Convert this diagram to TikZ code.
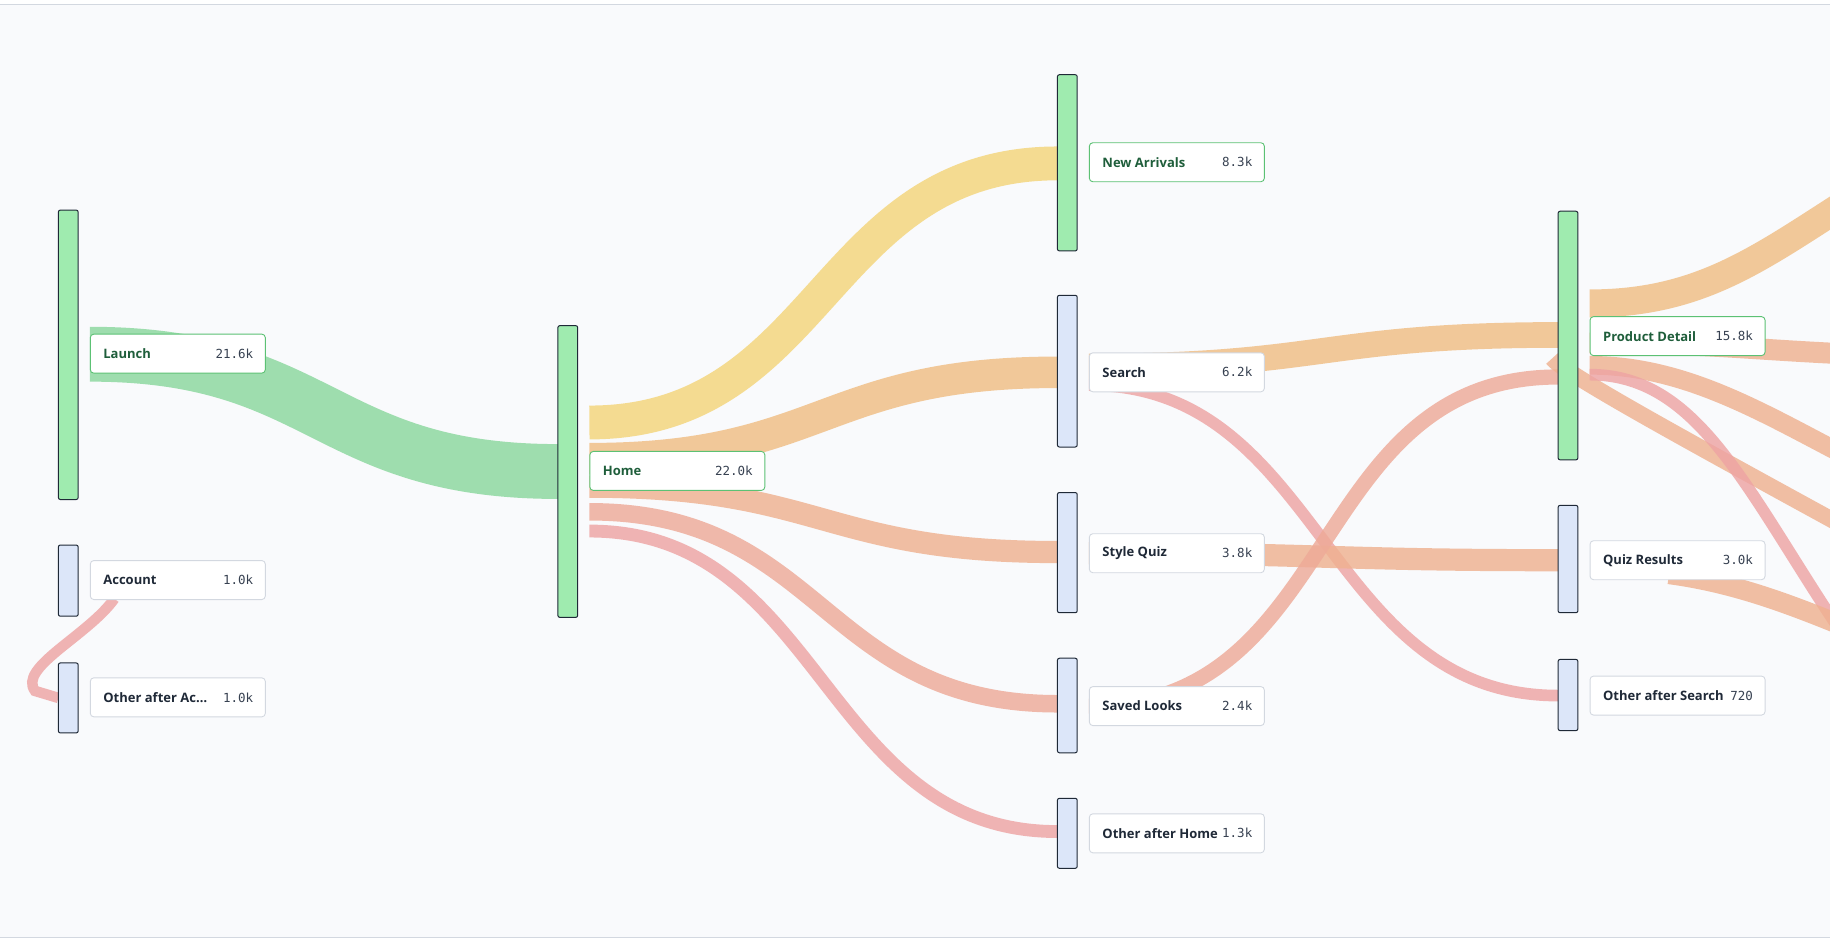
\documentclass[tikz,border=0pt]{standalone}
\usepackage{fontspec}
\setmainfont{Open Sans}
\newfontfamily\valfont{DejaVu Sans Mono}
\begin{document}
\definecolor{bg}{HTML}{F9FAFC}
\definecolor{gbar}{HTML}{9FEBAF}
\definecolor{bbar}{HTML}{DCE6F9}
\definecolor{bord}{HTML}{1F2937}
\definecolor{gbord}{HTML}{5CC174}
\definecolor{lbord}{HTML}{D3D8E0}
\definecolor{gtext}{HTML}{1F5E3B}
\definecolor{dtext}{HTML}{1F2937}
\definecolor{vtext}{HTML}{374151}
\definecolor{fgreen}{HTML}{8AD79D}
\definecolor{fyellow}{HTML}{F4D57A}
\definecolor{forange}{HTML}{F0BE84}
\definecolor{fsalm}{HTML}{EFB190}
\definecolor{fsalm2}{HTML}{EEAA98}
\definecolor{fred}{HTML}{EEA4A4}
\begin{tikzpicture}[x=1.1671pt,y=-1.1671pt,
  bar/.style={draw=bord,line width=1pt,rounded corners=2pt},
  gb/.style={bar,fill=gbar},
  bb/.style={bar,fill=bbar},
  lab/.style={draw=lbord,fill=white,rounded corners=3.5pt,line width=0.9pt,minimum width=175pt,minimum height=39pt,inner sep=0pt},
  glab/.style={lab,draw=gbord},
  fl/.style={draw opacity=0.82,line cap=butt},
  ltxt/.style={font=\bfseries\fontsize{13}{15}\selectfont,text=dtext,anchor=west},
  vtxt/.style={font=\valfont\fontsize{12.5}{15}\selectfont,text=vtext,anchor=east}]
\useasboundingbox (0,0) rectangle (1568,807);
\fill[white] (0,0) rectangle (1568,807);
\fill[bg] (0,4) rectangle (1568,803);
\draw[lbord,line width=1pt] (0,4) -- (1568,4) (0,803) -- (1568,803);
\begin{scope}
\clip (0,4) rectangle (1568,803);
% flows
\coordinate (l1) at (77,303.5); \coordinate (h1) at (478,404);
\draw[fl,fgreen,line width=47*1.1671pt] (l1) .. controls (277,303.5) and (277,404) .. (h1);
\coordinate (h2) at (505,362); \coordinate (n1) at (906,140);
\draw[fl,fyellow,line width=29*1.1671pt] (h2) .. controls (705,362) and (705,140) .. (n1);
\coordinate (h3) at (505,393); \coordinate (s1) at (906,319);
\draw[fl,forange,line width=27*1.1671pt] (h3) .. controls (705,393) and (705,319) .. (s1);
\coordinate (h4) at (505,417); \coordinate (q1) at (906,473);
\draw[fl,fsalm,line width=19*1.1671pt] (h4) .. controls (705,417) and (705,473) .. (q1);
\coordinate (h5) at (505,438.5); \coordinate (v1) at (906,603);
\draw[fl,fsalm2,line width=15*1.1671pt] (h5) .. controls (705,438.5) and (705,603) .. (v1);
\coordinate (h6) at (505,455); \coordinate (o1) at (906,712.5);
\draw[fl,fred,line width=11*1.1671pt] (h6) .. controls (705,455) and (705,712.5) .. (o1);
\coordinate (s2) at (933,314); \coordinate (p1) at (1335,287);
\draw[fl,forange,line width=22*1.1671pt] (s2) .. controls (1134,314) and (1134,287) .. (p1);
\coordinate (s3) at (933,330); \coordinate (x1) at (1335,596);
\draw[fl,fred,line width=10*1.1671pt] (s3) .. controls (1134,330) and (1134,596) .. (x1);
\coordinate (q2) at (933,474); \coordinate (r1) at (1335,480);
\draw[fl,fsalm,line width=19*1.1671pt] (q2) .. controls (1134,474) and (1134,480) .. (r1);
\coordinate (v2) at (933,605); \coordinate (p2) at (1335,323);
\draw[fl,fsalm2,line width=13*1.1671pt] (v2) .. controls (1150,605) and (1120,323) .. (p2);
\coordinate (a1) at (98,513); \coordinate (oa) at (50,598);
\draw[fl,fred,line width=9*1.1671pt] (a1) .. controls (75,545) and (15,572) .. (30,592) -- (oa);
% outgoing right
\coordinate (p3) at (1362,260); \coordinate (e1) at (1620,150);
\draw[fl,forange,line width=24*1.1671pt] (p3) .. controls (1470,260) and (1520,210) .. (e1);
\coordinate (p4) at (1362,294); \coordinate (e2) at (1600,304);
\draw[fl,fsalm,line width=18*1.1671pt] (p4) .. controls (1470,294) and (1500,300) .. (e2);
\coordinate (p5) at (1362,313); \coordinate (e3) at (1600,400);
\draw[fl,fsalm,line width=16*1.1671pt] (p5) .. controls (1450,313) and (1520,360) .. (e3);
\coordinate (p6) at (1330,307); \coordinate (e4) at (1600,462);
\draw[fl,fsalm,line width=14*1.1671pt] (p6) .. controls (1340,320) and (1450,380) .. (e4);
\coordinate (p7) at (1362,321); \coordinate (e5) at (1590,560);
\draw[fl,fred,line width=10*1.1671pt] (p7) .. controls (1460,321) and (1500,430) .. (e5);
\coordinate (r2) at (1430,492); \coordinate (e6) at (1600,545);
\draw[fl,fsalm,line width=17*1.1671pt] (r2) .. controls (1490,500) and (1540,520) .. (e6);
\end{scope}
% bars
\draw[gb] (50,180) rectangle (67,428);
\draw[bb] (50,467) rectangle (67,528);
\draw[bb] (50,568) rectangle (67,628);
\draw[gb] (478,279) rectangle (495,529);
\draw[gb] (906,64) rectangle (923,215);
\draw[bb] (906,253) rectangle (923,383);
\draw[bb] (906,422) rectangle (923,525);
\draw[bb] (906,564) rectangle (923,645);
\draw[bb] (906,684) rectangle (923,744);
\draw[gb] (1335,181) rectangle (1352,394);
\draw[bb] (1335,433) rectangle (1352,525);
\draw[bb] (1335,565) rectangle (1352,626);
% labels
\newcommand\mylab[6]{%
  \node[#6,anchor=west] (#1) at (#2,#3) {};
  \node[ltxt,#5] at ([xshift=10pt]#1.west) {#4};}
\newcommand\myval[2]{\node[vtxt] at ([xshift=-9pt]#1.east) {#2};}
\mylab{Llaunch}{77}{303}{Launch}{text=gtext}{glab}\myval{Llaunch}{21.6k}
\mylab{Lacc}{77}{497}{Account}{}{lab}\myval{Lacc}{1.0k}
\mylab{Loacc}{77}{597.5}{Other after Ac…}{}{lab}\myval{Loacc}{1.0k}
\mylab{Lhome}{505}{403.5}{Home}{text=gtext}{glab}\myval{Lhome}{22.0k}
\mylab{Lnew}{933}{139}{New Arrivals}{text=gtext}{glab}\myval{Lnew}{8.3k}
\mylab{Lsearch}{933}{319}{Search}{}{lab}\myval{Lsearch}{6.2k}
\mylab{Lquiz}{933}{474}{Style Quiz}{}{lab}\myval{Lquiz}{3.8k}
\mylab{Lsaved}{933}{605}{Saved Looks}{}{lab}\myval{Lsaved}{2.4k}
\mylab{Lohome}{933}{714}{Other after Home}{}{lab}\myval{Lohome}{1.3k}
\mylab{Lprod}{1362}{288}{Product Detail}{text=gtext}{glab}\myval{Lprod}{15.8k}
\mylab{Lqres}{1362}{480}{Quiz Results}{}{lab}\myval{Lqres}{3.0k}
\mylab{Losearch}{1362}{596}{Other after Search}{}{lab}\myval{Losearch}{720}
\end{tikzpicture}
\end{document}
